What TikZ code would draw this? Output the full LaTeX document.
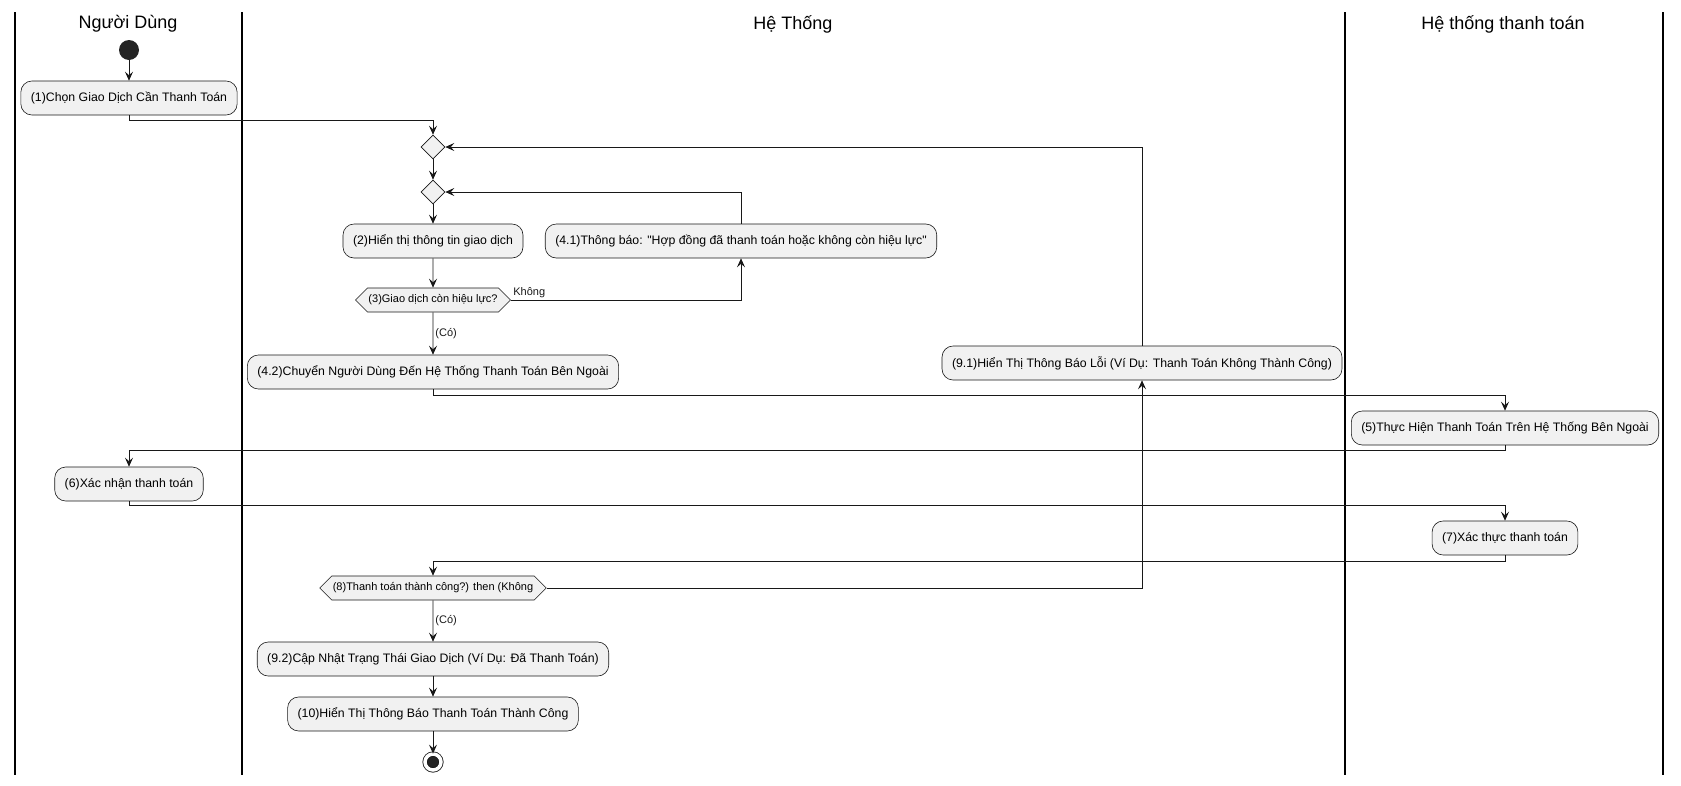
\documentclass[tikz,border=0pt]{standalone}
\usepackage{fontspec}
\setmainfont{Liberation Sans}
\usetikzlibrary{arrows.meta,shapes.geometric,shapes.symbols}
\definecolor{actfill}{HTML}{F1F1F1}
\definecolor{actline}{HTML}{181818}
\tikzset{
  lane/.style={line width=1.2pt, black},
  lanehead/.style={font=\fontsize{18}{21}\selectfont},
  act/.style={draw=actline, fill=actfill, rounded corners=11pt, line width=0.6pt,
    minimum height=34pt, inner xsep=10pt, font=\fontsize{12.3}{14}\selectfont},
  merge/.style={draw=actline, fill=actfill, diamond, minimum size=24pt,
    inner sep=0pt, line width=0.6pt},
  test/.style={draw=actline, fill=actfill, signal, signal to=west and east,
    minimum height=24pt, inner xsep=1pt, line width=0.6pt,
    font=\fontsize{11}{13}\selectfont},
  startnode/.style={circle, fill=actline!95, minimum size=20pt, inner sep=0pt},
  stopnode/.style={circle, draw=actline, fill=actline!95, double=white,
    double distance=3.5pt, line width=0.8pt, minimum size=16pt, inner sep=0pt},
  flow/.style={-{Stealth[length=9pt,width=8pt,inset=3.5pt]}, line width=0.8pt, actline},
  guard/.style={font=\fontsize{11}{13}\selectfont, inner sep=2pt}
}
\begin{document}
\begin{tikzpicture}[x=1pt,y=-1pt]
  \useasboundingbox (0,0) rectangle (1681,785);
  % swimlanes
  \foreach \x in {15,242,1345,1663}
    \draw[lane] (\x,12) -- (\x,775);
  \draw
    (128,24) node[lanehead] (hUser){Người Dùng}
    (793,24) node[lanehead] (hSys){Hệ Thống}
    (1503,24) node[lanehead] (hPay){Hệ thống thanh toán};
  % activities
  \draw
    (129,50) node[startnode] (start){}
    (129,98) node[act] (a1){(1)Chọn Giao Dịch Cần Thanh Toán}
    (433,147) node[merge] (m1){}
    (433,192) node[merge] (m2){}
    (433,241) node[act] (a2){(2)Hiển thị thông tin giao dịch}
    (741,241) node[act] (a41){(4.1)Thông báo: \textquotedbl Hợp đồng đã thanh toán hoặc không còn hiệu lực\textquotedbl}
    (433,300) node[test] (q3){(3)Giao dịch còn hiệu lực?}
    (433,372) node[act] (a42){(4.2)Chuyển Người Dùng Đến Hệ Thống Thanh Toán Bên Ngoài}
    (1142,363) node[act] (a91){(9.1)Hiển Thị Thông Báo Lỗi (Ví Dụ: Thanh Toán Không Thành Công)}
    (1505,428) node[act] (a5){(5)Thực Hiện Thanh Toán Trên Hệ Thống Bên Ngoài}
    (129,484) node[act] (a6){(6)Xác nhận thanh toán}
    (1505,538) node[act] (a7){(7)Xác thực thanh toán}
    (433,588) node[test] (q8){(8)Thanh toán thành công?) then (Không}
    (433,659) node[act] (a92){(9.2)Cập Nhật Trạng Thái Giao Dịch (Ví Dụ: Đã Thanh Toán)}
    (433,714) node[act] (a10){(10)Hiển Thị Thông Báo Thanh Toán Thành Công}
    (433,762) node[stopnode] (stop){};
  % flows
  \begin{scope}[flow]
    \draw (start) to (a1);
    \draw (a1.south) -- ++(0,5) -| (m1.north);
    \draw (m1) to (m2);
    \draw (m2) to (a2);
    \draw (a2) to (q3);
    \draw (q3.east) -| node[guard, pos=0, anchor=south west]{Không} (a41.south);
    \draw (a41.north) |- (m2.east);
    \draw (q3) to node[guard, right]{(Có)} (a42);
    \draw (a42.south) -- ++(0,6) -| (a5.north);
    \draw (a5.south) -- ++(0,5) -| (a6.north);
    \draw (a6.south) -- ++(0,4) -| (a7.north);
    \draw (a7.south) -- ++(0,6) -| (q8.north);
    \draw (q8.east) -| (a91.south);
    \draw (a91.north) |- (m1.east);
    \draw (q8) to node[guard, right]{(Có)} (a92);
    \draw (a92) to (a10);
    \draw (a10) to (stop);
  \end{scope}
\end{tikzpicture}
\end{document}
